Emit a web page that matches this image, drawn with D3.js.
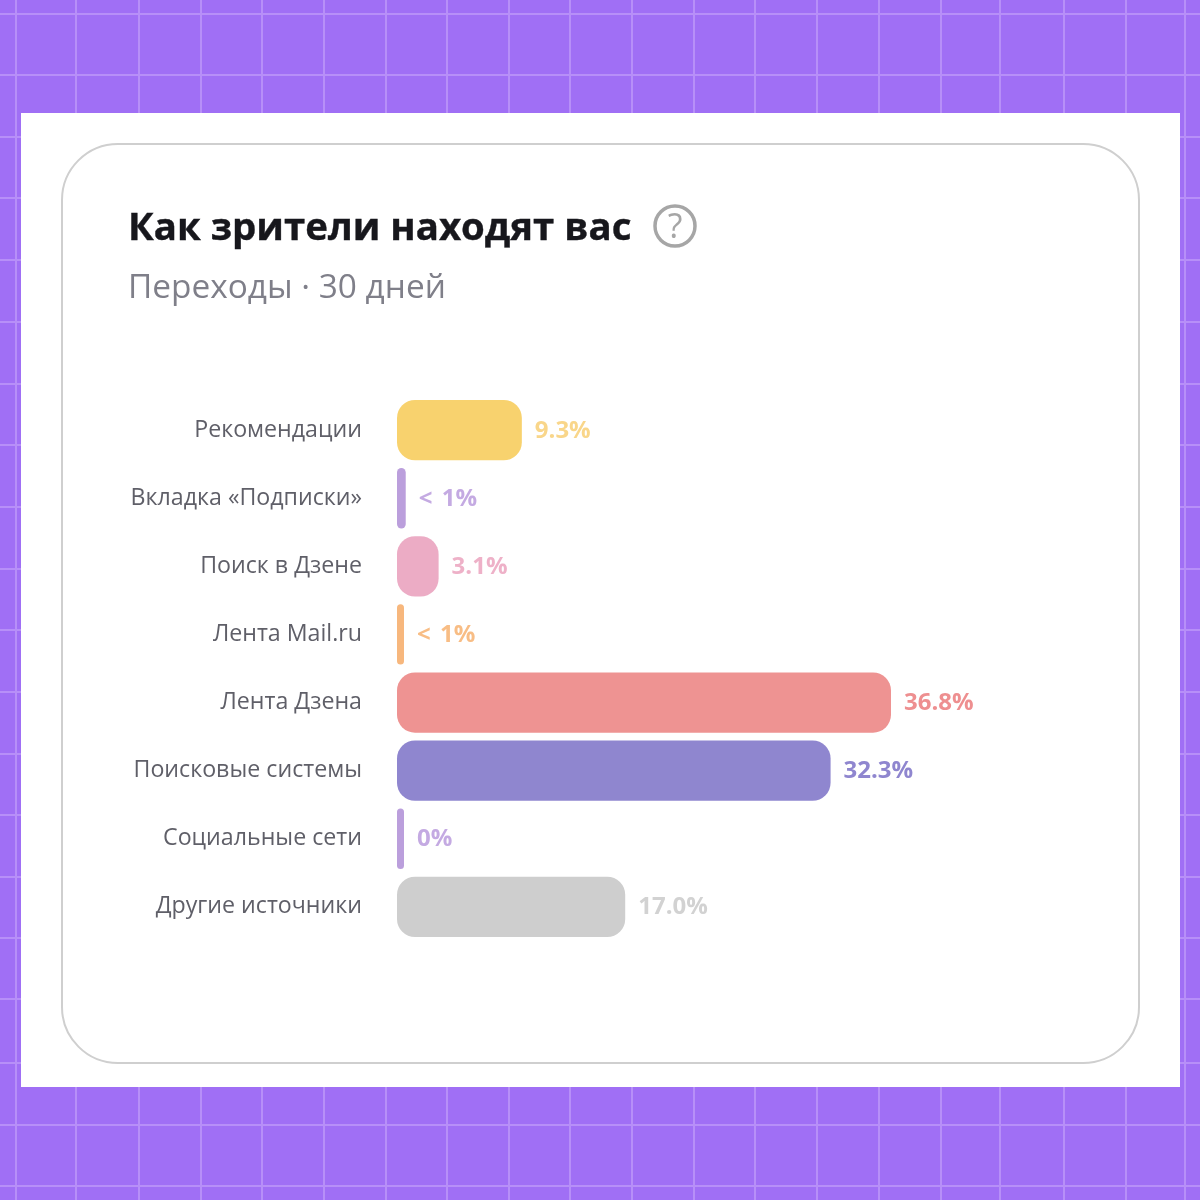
<!DOCTYPE html>
<html>
<head>
<meta charset="utf-8">
<script src="https://cdn.jsdelivr.net/npm/d3@7"></script>
<style>
  html, body { margin: 0; padding: 0; background: #a06ff5; }
  svg { display: block; }
  text { font-family: "Open Sans", sans-serif; filter: blur(0.4px); }
</style>
</head>
<body>
<svg id="chart"></svg>
<script>
const categories = ['Рекомендации', 'Вкладка «Подписки»', 'Поиск в Дзене', 'Лента Mail.ru', 'Лента Дзена', 'Поисковые системы', 'Социальные сети', 'Другие источники']
const values = [9.3, 0.65, 3.1, 0.4, 36.8, 32.3, 0, 17.0]
const valueLabels = ['9.3%', '< 1%', '3.1%', '< 1%', '36.8%', '32.3%', '0%', '17.0%']
const colors = ['#f8d26e', '#bb9fdc', '#ecacc5', '#f7b77d', '#ee9392', '#8f86cf', '#bb9fdc', '#cecece']
const labelColors = ['#f9d68a', '#c4aae2', '#eeb1c8', '#f8bd85', '#ee8f90', '#8f86cf', '#c4aae2', '#d2d2d2']
const gridX = [16, 76, 139, 201, 262, 324, 386, 447, 509, 570, 632, 694, 755, 817, 879, 941, 1000, 1064, 1126, 1185]
const gridY = [14, 75, 137, 198, 260, 322, 384, 445, 507, 569, 630, 692, 754, 815, 877, 938, 999, 1063, 1125, 1186]

const size = 1200
const svg = d3.select('#chart').attr('width', size).attr('height', size)

// background with the grid
svg.append('rect').attr('width', size).attr('height', size).attr('fill', '#a06ff5')
svg.selectAll('.grid-v').data(gridX).enter().append('line')
  .attr('class', 'grid-v')
  .attr('x1', d => d).attr('x2', d => d)
  .attr('y1', 0).attr('y2', size)
  .attr('stroke', '#b78ff8').attr('stroke-width', 2)
svg.selectAll('.grid-h').data(gridY).enter().append('line')
  .attr('class', 'grid-h')
  .attr('y1', d => d).attr('y2', d => d)
  .attr('x1', 0).attr('x2', size)
  .attr('stroke', '#b78ff8').attr('stroke-width', 2)

// white sheet and card
svg.append('rect').attr('x', 21).attr('y', 113).attr('width', 1159).attr('height', 974).attr('fill', '#fff')
svg.append('rect').attr('x', 62).attr('y', 144).attr('width', 1077).attr('height', 919).attr('rx', 56)
  .attr('fill', '#fff').attr('stroke', '#cfcfcf').attr('stroke-width', 2)

// header
svg.append('text').attr('x', 128).attr('y', 240)
  .attr('font-size', 38.4).attr('font-weight', 700).attr('fill', '#17171c')
  .attr('stroke', '#17171c').attr('stroke-width', 0.4)
  .text('Как зрители находят вас')
svg.append('text').attr('x', 128).attr('y', 298)
  .attr('font-size', 33.4).attr('fill', '#7f7f89')
  .text('Переходы · 30 дней')
svg.append('circle').attr('cx', 675).attr('cy', 226).attr('r', 20)
  .attr('fill', 'none').attr('stroke', '#a6a6a6').attr('stroke-width', 3.5)
svg.append('text').attr('x', 675).attr('y', 238).attr('text-anchor', 'middle')
  .attr('font-size', 34).attr('fill', '#a6a6a6')
  .text('?')

// bars
const x = d3.scaleLinear().domain([0, 36.8]).range([397, 891])
const y = d3.scaleBand().domain(categories).range([400, 937]).paddingInner(0.114)
const minBar = 7

const barWidth = i => Math.max(x(values[i]) - x(0), minBar)

svg.append('g')
  .attr('transform', 'translate(362,-1)')
  .call(d3.axisLeft(y).tickSize(0).tickPadding(0))
  .call(g => g.select('.domain').remove())
  .call(g => g.selectAll('text')
    .attr('font-family', '"Open Sans", sans-serif')
    .attr('font-size', 23.2)
    .attr('fill', '#5f5f68'))

svg.selectAll('.bar').data(categories).enter().append('rect')
  .attr('class', 'bar')
  .attr('x', x(0))
  .attr('y', d => y(d))
  .attr('width', (d, i) => barWidth(i))
  .attr('height', y.bandwidth())
  .attr('rx', (d, i) => Math.min(18, barWidth(i) / 2))
  .attr('fill', (d, i) => colors[i])

svg.selectAll('.value').data(categories).enter().append('text')
  .attr('class', 'value')
  .attr('x', (d, i) => x(0) + barWidth(i) + 13)
  .attr('y', d => y(d) + y.bandwidth() / 2 - 1)
  .attr('dy', '0.35em')
  .attr('font-size', 24)
  .attr('font-weight', 700)
  .attr('word-spacing', 3)
  .attr('fill', (d, i) => labelColors[i])
  .text((d, i) => valueLabels[i])
</script>
</body>
</html>
